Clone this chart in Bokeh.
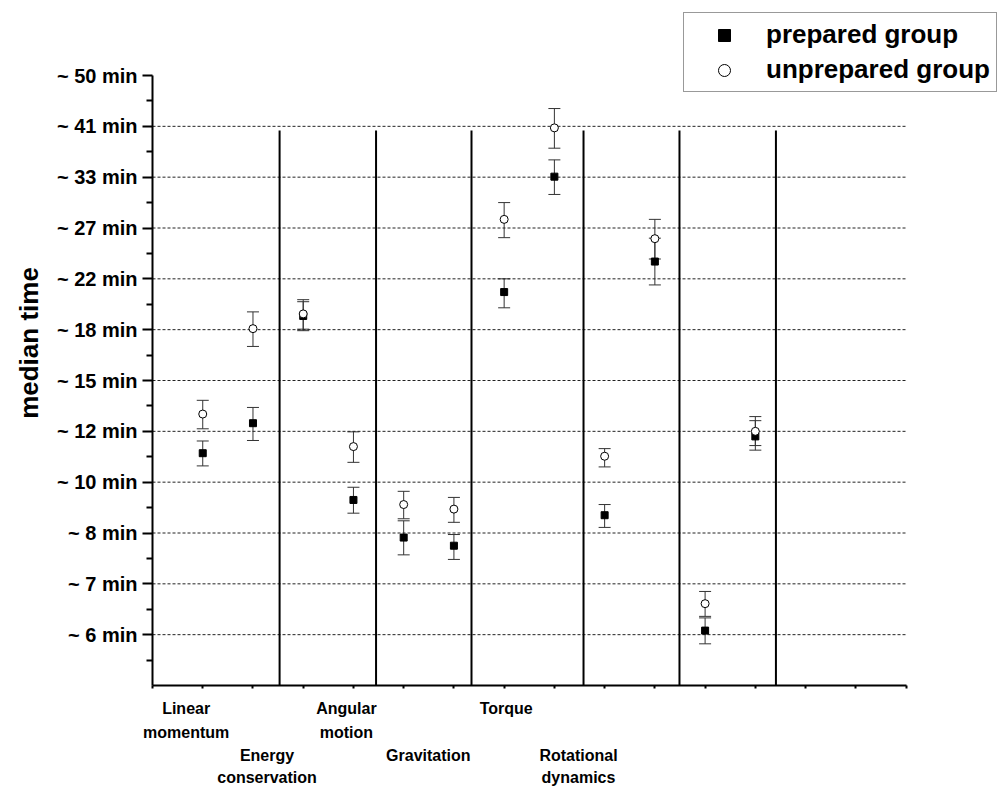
from bokeh.plotting import figure
from bokeh.models import (ColumnDataSource, Whisker, TeeHead, FixedTicker, Range1d,
                          Legend, LegendItem, LinearAxis)
from bokeh.embed import file_html
from bokeh.resources import INLINE

# ---------------- data ----------------
# y values are positions on the chart's log-time scale: 0 = "~ 6 min" tick, 1 = "~ 7 min", ...
tick_labels = ["~ 6 min", "~ 7 min", "~ 8 min", "~ 10 min", "~ 12 min", "~ 15 min",
               "~ 18 min", "~ 22 min", "~ 27 min", "~ 33 min", "~ 41 min", "~ 50 min"]
categories = ["Linear\nmomentum", "Energy\nconservation", "Angular\nmotion",
              "Gravitation", "Torque", "Rotational\ndynamics"]
task_x = [1, 2, 3, 4, 5, 6, 7, 8, 9, 10, 11, 12]

prepared = [3.57, 4.16, 6.27, 2.65, 1.91, 1.75, 6.74, 9.01, 2.35, 7.34, 0.08, 3.90]
prepared_lo = [3.32, 3.82, 5.98, 2.39, 1.57, 1.48, 6.43, 8.66, 2.11, 6.88, -0.18, 3.63]
prepared_hi = [3.81, 4.47, 6.55, 2.90, 2.24, 1.97, 7.00, 9.34, 2.56, 7.80, 0.33, 4.21]

unprepared = [4.34, 6.02, 6.31, 3.70, 2.56, 2.47, 8.17, 9.97, 3.51, 7.79, 0.61, 4.00]
unprepared_lo = [4.05, 5.67, 6.01, 3.39, 2.28, 2.21, 7.81, 9.57, 3.30, 7.39, 0.36, 3.72]
unprepared_hi = [4.61, 6.35, 6.59, 3.99, 2.82, 2.70, 8.50, 10.35, 3.66, 8.17, 0.85, 4.29]

# ---------------- layout ----------------
separators_x = [2.53, 4.45, 6.35, 8.58, 10.49, 12.41]
cat_label_x = [0.67, 2.28, 3.86, 5.49, 7.04, 8.48]
cat_first_row = [0, 2, 0, 2, 0, 2]          # staggered label rows under the axis
row_standoffs = [11, 4, 3, 2]
n_ticks = len(tick_labels)
y_lo, y_hi = -1, n_ticks - 1
x_lo, x_hi = 0, 15

FONT = "Liberation Sans"

p = figure(width=1003, height=789, output_backend="svg", toolbar_location=None,
           x_range=Range1d(x_lo, 16.94), y_range=Range1d(y_lo, 12.4755),
           min_border_left=152, min_border_right=0, min_border_top=0, min_border_bottom=104)
p.outline_line_color = None
p.background_fill_color = "white"
p.border_fill_color = "white"

# y axis
yax = p.yaxis[0]
yax.bounds = (y_lo, y_hi)
yax.ticker = FixedTicker(ticks=list(range(n_ticks)),
                         minor_ticks=[k + 0.5 for k in range(-1, n_ticks - 1)])
yax.major_label_overrides = {i: t for i, t in enumerate(tick_labels)}
yax.axis_line_width = 2
yax.axis_line_color = "black"
yax.major_tick_line_width = 2
yax.minor_tick_line_width = 2
yax.major_tick_out = 10
yax.major_tick_in = 0
yax.minor_tick_out = 6
yax.minor_tick_in = 0
yax.major_label_standoff = 5
yax.major_label_text_font = FONT
yax.major_label_text_font_style = "bold"
yax.major_label_text_font_size = "20px"
yax.major_label_text_color = "black"
yax.axis_label = "median time"
yax.axis_label_text_font = FONT
yax.axis_label_text_font_style = "bold"
yax.axis_label_text_font_size = "26px"
yax.axis_label_text_color = "black"
yax.axis_label_standoff = 10

# x axis
xax = p.xaxis[0]
xax.bounds = (x_lo, x_hi)
xax.ticker = FixedTicker(ticks=list(range(x_lo, x_hi + 1)), minor_ticks=[])
xax.axis_line_width = 2
xax.axis_line_color = "black"
xax.major_tick_line_width = 2
xax.major_tick_out = 3
xax.major_tick_in = 0
xax.minor_tick_out = 0
xax.major_label_standoff = 0
xax.major_label_text_color = None
xax.major_label_text_font_size = "1px"

# category label axes: one axis per staggered text row
for row, standoff in enumerate(row_standoffs):
    ticks, overrides = [], {}
    for name, cx, first in zip(categories, cat_label_x, cat_first_row):
        lines = name.split("\n")
        k = row - first
        if 0 <= k < len(lines):
            ticks.append(cx)
            overrides[cx] = lines[k]
    ax = LinearAxis(ticker=FixedTicker(ticks=ticks, minor_ticks=[]),
                    major_label_overrides=overrides)
    ax.axis_line_color = None
    ax.major_tick_line_color = None
    ax.minor_tick_line_color = None
    ax.major_tick_out = 0
    ax.major_tick_in = 0
    ax.minor_tick_out = 0
    ax.minor_tick_in = 0
    ax.major_label_standoff = standoff
    ax.major_label_text_font = FONT
    ax.major_label_text_font_style = "bold"
    ax.major_label_text_font_size = "16px"
    ax.major_label_text_line_height = 1.0
    ax.major_label_text_color = "black"
    p.add_layout(ax, "below")

# grid (dashed lines limited to the axis span)
p.xgrid.visible = False
p.ygrid.visible = False
grid_y = list(range(n_ticks - 1))
p.segment(x0=[x_lo] * len(grid_y), x1=[x_hi] * len(grid_y), y0=grid_y, y1=grid_y,
          line_color="#222222", line_dash="3 2", line_width=1)

# separators
p.segment(x0=separators_x, x1=separators_x, y0=[y_lo] * len(separators_x),
          y1=[9.92] * len(separators_x), line_color="black", line_width=2)

src = ColumnDataSource(dict(x=task_x, prep=prepared, prep_lo=prepared_lo, prep_hi=prepared_hi,
                            unp=unprepared, unp_lo=unprepared_lo, unp_hi=unprepared_hi))

for lo, hi in (("prep_lo", "prep_hi"), ("unp_lo", "unp_hi")):
    w = Whisker(source=src, base="x", lower=lo, upper=hi, dimension="height",
                line_color="#333333", line_width=1,
                upper_head=TeeHead(size=12, line_color="#333333", line_width=1),
                lower_head=TeeHead(size=12, line_color="#333333", line_width=1))
    p.add_layout(w)

r_prep = p.scatter("x", "prep", source=src, marker="square", size=7,
                   fill_color="black", line_color="black")
r_unp = p.scatter("x", "unp", source=src, marker="circle", size=8,
                  fill_color="white", line_color="black", line_width=1)

legend = Legend(items=[LegendItem(label="prepared group", renderers=[r_prep]),
                       LegendItem(label="unprepared group", renderers=[r_unp])],
                location=(531, 593))
legend.label_text_font = FONT
legend.label_text_font_style = "bold"
legend.label_text_font_size = "26px"
legend.label_text_color = "black"
legend.padding = 6
legend.spacing = 4
legend.margin = 0
legend.glyph_width = 68
legend.glyph_height = 30
legend.label_height = 30
legend.label_standoff = 8
legend.border_line_color = "#333333"
legend.border_line_width = 1
legend.background_fill_color = "white"
legend.background_fill_alpha = 1
p.add_layout(legend, "center")

open("out.html", "w").write(file_html(p, INLINE))
